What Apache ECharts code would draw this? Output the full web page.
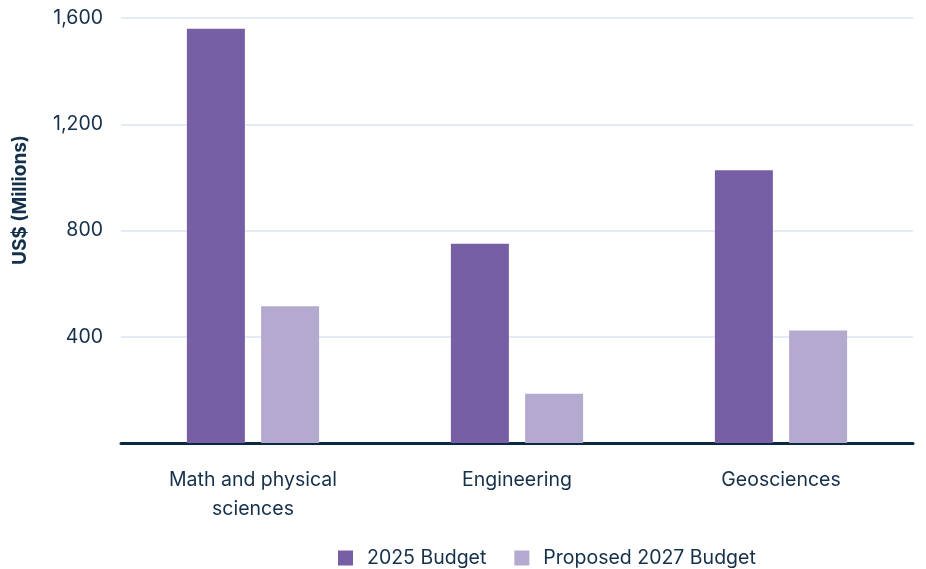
<!DOCTYPE html>
<html>
<head>
<meta charset="utf-8">
<script src="https://cdn.jsdelivr.net/npm/echarts@6/dist/echarts.min.js"></script>
<style>
  html, body { margin: 0; padding: 0; background: #ffffff; }
  #chart { width: 926px; height: 569px; }
</style>
</head>
<body>
<div id="chart"></div>
<script>
// Research directorates and their budgets, US$ millions
const categories = ['Math and physical\nsciences', 'Engineering', 'Geosciences'];
const budget2025 = [1560, 750, 1027];
const proposed2027 = [515, 185, 424];
const yTicks = [0, 400, 800, 1200, 1600];
const yTitle = 'US$ (Millions)';

const textColor = '#14304a';
const fontFamily = 'Inter, "Noto Sans", sans-serif';

const chart = echarts.init(document.getElementById('chart'), null, { renderer: 'canvas' });

chart.setOption({
  animation: false,
  textStyle: { fontFamily: fontFamily, color: textColor },
  grid: { left: 121, right: 13, top: 18, bottom: 126, containLabel: false },
  legend: {
    top: 543,
    left: 333,
    icon: 'rect',
    itemWidth: 15,
    itemHeight: 15,
    itemGap: 28,
    textStyle: { fontSize: 19.5, color: textColor, fontFamily: fontFamily, padding: [0, 0, 0, 9] },
    data: ['2025 Budget', 'Proposed 2027 Budget']
  },
  // vertical axis title, sitting a little above the plot's middle
  graphic: [{
    type: 'text',
    x: 20,
    y: 200,
    rotation: Math.PI / 2,
    style: {
      text: yTitle,
      fontSize: 19,
      fontWeight: 'bold',
      fontFamily: fontFamily,
      fill: textColor,
      align: 'center',
      verticalAlign: 'middle'
    }
  }],
  xAxis: {
    type: 'category',
    data: categories,
    axisTick: { show: false },
    axisLine: { lineStyle: { color: '#0b2840', width: 3, cap: 'round' } },
    axisLabel: { fontSize: 19.5, lineHeight: 29, color: textColor, margin: 23, fontFamily: fontFamily }
  },
  yAxis: {
    type: 'value',
    min: yTicks[0],
    max: yTicks[yTicks.length - 1],
    interval: 400,
    axisLine: { show: false },
    axisTick: { show: false },
    splitLine: { lineStyle: { color: '#e2ebf6', width: 2 } },
    axisLabel: {
      fontSize: 19.5,
      color: textColor,
      margin: 18,
      fontFamily: fontFamily,
      formatter: function (v) { return v === 0 ? '' : v.toLocaleString('en-US'); }
    }
  },
  series: [
    {
      name: '2025 Budget',
      type: 'bar',
      data: budget2025,
      barWidth: 58,
      barGap: '28%',
      itemStyle: { color: '#775fa5' }
    },
    {
      name: 'Proposed 2027 Budget',
      type: 'bar',
      data: proposed2027,
      barWidth: 58,
      itemStyle: { color: '#b4a9cf' }
    }
  ]
});
</script>
</body>
</html>
